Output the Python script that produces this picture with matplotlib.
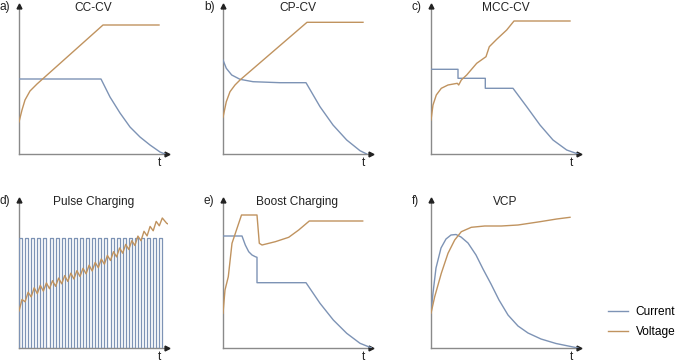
import matplotlib
matplotlib.use("Agg")
import matplotlib.pyplot as plt

plt.rcParams['font.family'] = ['Liberation Sans', 'DejaVu Sans']

CUR = '#7d93b5'
VOL = '#c0935f'
AXC = '#8a8a8a'

titles = ['CC-CV', 'CP-CV', 'MCC-CV', 'Pulse Charging', 'Boost Charging', 'VCP']
letters = ['a)', 'b)', 'c)', 'd)', 'e)', 'f)']

# a) CC-CV
a_cur_t = [0, 82, 91, 101, 111, 121, 131, 141, 146]
a_cur = [75, 75, 57, 41, 27, 17, 9, 2, 0]
a_vol_t = [0, 3, 6, 11, 18, 84, 140]
a_vol = [32, 44, 54, 63, 70, 129, 129]

# b) CP-CV
b_cur_t = [0, 3.3, 8.7, 17, 30, 57, 83, 97, 110, 123.7, 137, 143.7]
b_cur = [94, 85.7, 79, 74.7, 72.3, 71.3, 71.3, 47.3, 29, 14, 3.3, 0]
b_vol_t = [0, 3.3, 7, 12, 17, 84, 140]
b_vol = [36.7, 52.3, 62.3, 69, 74, 131.7, 131.7]

# c) MCC-CV
c_cur_t = [0, 27, 27, 54.3, 54.3, 82, 95.7, 109, 122, 135.7, 147]
c_cur = [84.7, 84.7, 75.7, 75.7, 65.7, 65.7, 47.3, 29, 14, 4, 0]
c_vol_t = [0, 2, 5.3, 10.3, 17, 26.3, 27.7, 30.3, 35.7, 45.7, 55, 58.3, 65.7, 75.7, 83, 139]
c_vol = [34, 49, 59, 65.7, 69, 70.7, 69, 74, 79, 90.7, 97.3, 107.3, 114.7, 124, 133, 133]

# d) Pulse charging
pulse_start = [0, 6.1, 12.2, 18.3, 24.4, 30.5, 36.6, 42.7, 48.8, 54.9, 61, 67.1,
               73.2, 79.3, 85.4, 91.5, 97.6, 103.7, 109.8, 115.9, 122, 128.1, 134.2, 140.3]
pulse_width = 3
pulse_height = 110
d_vol_low = [37, 46.2, 51.1, 54.4, 56.9, 59.3, 61.7, 64.2, 66.6, 69, 71.5, 74.2,
             77, 80.3, 83.8, 87.5, 91.1, 94.8, 98.5, 102.5, 107.3, 112.1, 117.2, 122.2]
d_vol_high = [48.5, 55.8, 60.2, 62.6, 65.1, 67.3, 69.9, 72.4, 74.8, 77.3, 79.7, 82.8,
              85.6, 89, 92.6, 96.3, 100, 103.6, 107.3, 111.9, 116.7, 121.6, 126.6, 130]
d_tail_t = [147.7, 152.7, 156]
d_tail = [124.7, 122.3, 122.3]

# e) Boost charging
e_cur_t = [0, 19, 22.3, 25.7, 29, 32.3, 34, 34, 83, 97, 110.3, 123.7, 137, 148.7]
e_cur = [112, 112, 103, 96.3, 93, 91.3, 90.7, 65.3, 65.3, 44.7, 28, 14.7, 4.7, 0]
e_vol_t = [0, 2, 5.3, 9, 18.5, 34, 36.3, 39, 52.3, 65.7, 75.7, 86.3, 139.7]
e_vol = [34.7, 58, 71.3, 104.7, 133, 133, 104.7, 103, 106.3, 110.7, 118, 127, 127]

# f) VCP
f_cur_t = [0, 2, 5, 10, 15, 20, 25, 30, 37, 45, 52, 60, 68, 77, 87, 97, 110, 125, 147]
f_cur = [34.7, 55, 80, 100, 109, 113, 113.5, 111, 105, 93, 79, 64, 48, 33, 22, 15, 9, 4.5, 0]
f_vol_t = [0, 3.7, 10.3, 17, 23.7, 30.3, 40.3, 53.7, 70.3, 87, 109, 125.7, 139]
f_vol = [34.7, 51.3, 74.7, 94.7, 108, 116.3, 120.7, 122, 122, 123, 126.3, 129, 130.7]

# pixel positions of the axis origins
origins = [(19, 154), (223, 154), (431, 154), (19, 348), (223, 348), (431, 348)]
W, H = 680, 364
size = 149

fig = plt.figure(figsize=(6.8, 3.64), dpi=100)
axes = []
for (x0, y0) in origins:
    ax = fig.add_axes([x0 / W, (H - y0) / H, size / W, size / H])
    ax.set_xlim(0, size)
    ax.set_ylim(0, size)
    ax.axis('off')
    axes.append(ax)

for i, ax in enumerate(axes):
    ax.plot([0, 0], [0, size - 2], color=AXC, lw=1.0, clip_on=False)
    ax.plot([0, size - 2], [0, 0], color=AXC, lw=1.0, clip_on=False)
    ax.plot(0, size - 1, marker='^', color='#222222', ms=3.5, clip_on=False)
    ax.plot(size - 1, 0, marker='>', color='#222222', ms=3.5, clip_on=False)
    ax.text(140, -9, 't', ha='center', va='center', fontsize=8.5, color='#222222')
    ax.text(74.5, 146, titles[i], ha='center', va='center', fontsize=8.6, color='#222222')
    ax.text(-19, 147, letters[i], ha='left', va='center', fontsize=8.6, color='#222222')

lw = 1.0
axes[0].plot(a_cur_t, a_cur, color=CUR, lw=lw)
axes[0].plot(a_vol_t, a_vol, color=VOL, lw=lw)
axes[1].plot(b_cur_t, b_cur, color=CUR, lw=lw)
axes[1].plot(b_vol_t, b_vol, color=VOL, lw=lw)
axes[2].plot(c_cur_t, c_cur, color=CUR, lw=lw)
axes[2].plot(c_vol_t, c_vol, color=VOL, lw=lw)

# pulse train
px, py = [], []
for s in pulse_start:
    px += [s, s, s + pulse_width, s + pulse_width]
    py += [0, pulse_height, pulse_height, 0]
axes[3].plot(px, py, color=CUR, lw=0.9)
vx, vy = [], []
for s, lo, hi in zip(pulse_start, d_vol_low, d_vol_high):
    vx += [s, s + pulse_width]
    vy += [lo, hi]
axes[3].plot(vx + d_tail_t, vy + d_tail, color=VOL, lw=lw)

axes[4].plot(e_cur_t, e_cur, color=CUR, lw=lw)
axes[4].plot(e_vol_t, e_vol, color=VOL, lw=lw)
lc, = axes[5].plot(f_cur_t, f_cur, color=CUR, lw=lw, label='Current')
lv, = axes[5].plot(f_vol_t, f_vol, color=VOL, lw=lw, label='Voltage')

fig.legend(handles=[lc, lv], loc='upper left', bbox_to_anchor=(608 / W, 1 - 306 / H),
           frameon=False, fontsize=8.6, handlelength=1.7, handletextpad=0.6,
           labelspacing=0.65, borderpad=0, borderaxespad=0)

fig.savefig('out.png', dpi=100)
